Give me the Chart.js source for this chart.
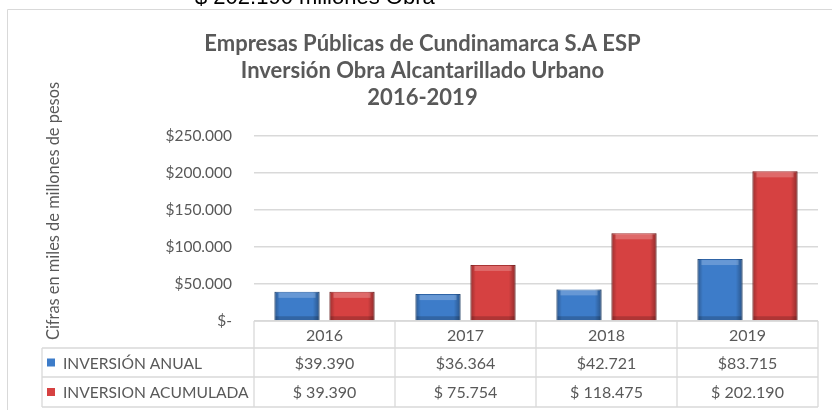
<!DOCTYPE html>
<html lang="es">
<head>
<meta charset="utf-8">
<title>Inversión Obra Alcantarillado Urbano</title>
<script src="https://cdn.jsdelivr.net/npm/chart.js@4/dist/chart.umd.min.js"></script>
<style>
    html, body { margin: 0; padding: 0; background: #fff; overflow: hidden; }
    #contenedor { position: relative; width: 832px; height: 410px; }
    #grafico { position: absolute; left: 0; top: 0; }
    #nota {
        position: absolute; left: 195px; top: -16px;
        font-family: "Liberation Sans", Arial, sans-serif; font-size: 22px;
        color: #000; white-space: nowrap;
    }
</style>
</head>
<body>
<div id="contenedor">
    <canvas id="grafico" width="832" height="410"></canvas>
    <div id="nota">$ 202.190 millones Obra</div>
</div>
<script>
// Datos del gráfico
const anios = ['2016', '2017', '2018', '2019'];
const inversionAnual = [39390, 36364, 42721, 83715];
const inversionAcumulada = [39390, 75754, 118475, 202190];
const nombresSeries = ['INVERSIÓN ANUAL', 'INVERSION ACUMULADA'];
const ticksEje = [0, 50000, 100000, 150000, 200000, 250000];
const tituloLineas = [
    'Empresas Públicas de Cundinamarca S.A ESP',
    'Inversión Obra Alcantarillado Urbano',
    '2016-2019'
];
const tituloEje = 'Cifras en miles de millones de pesos';

const GRIS_TEXTO = '#595959';
const GRIS_LINEA = '#D9D9D9';
const FUENTE = 'Lato, "Open Sans", sans-serif';

// Formato con punto de miles
function miles(n) {
    return String(n).replace(/\B(?=(\d{3})+(?!\d))/g, '.');
}

document.addEventListener('DOMContentLoaded', () => {
    const canvas = document.getElementById('grafico');

    // Borde exterior del gráfico (solo se ven izquierda y arriba)
    const bordeExterior = {
        id: 'bordeExterior',
        beforeDraw(chart) {
            const ctx = chart.ctx;
            ctx.save();
            ctx.strokeStyle = GRIS_LINEA;
            ctx.lineWidth = 1;
            ctx.beginPath();
            ctx.moveTo(7.5, chart.height + 2);
            ctx.lineTo(7.5, 9.5);
            ctx.lineTo(chart.width + 2, 9.5);
            ctx.stroke();
            ctx.restore();
        }
    };

    // Efecto de bisel sobre las barras
    const biselBarras = {
        id: 'biselBarras',
        afterDatasetsDraw(chart) {
            const ctx = chart.ctx;
            ctx.save();
            chart.data.datasets.forEach((ds, i) => {
                chart.getDatasetMeta(i).data.forEach(bar => {
                    const izq = bar.x - bar.width / 2;
                    const der = bar.x + bar.width / 2;
                    const alto = bar.base - bar.y;
                    let g = ctx.createLinearGradient(izq, 0, der, 0);
                    g.addColorStop(0, 'rgba(0,0,0,0.28)');
                    g.addColorStop(0.12, 'rgba(0,0,0,0)');
                    g.addColorStop(0.85, 'rgba(0,0,0,0)');
                    g.addColorStop(1, 'rgba(0,0,0,0.32)');
                    ctx.fillStyle = g;
                    ctx.fillRect(izq, bar.y, bar.width, alto);
                    // brillo superior
                    ctx.fillStyle = 'rgba(255,255,255,0.22)';
                    ctx.fillRect(izq + 4, bar.y + 1, bar.width - 8, Math.min(5, alto));
                    // sombra inferior
                    ctx.fillStyle = 'rgba(0,0,0,0.18)';
                    ctx.fillRect(izq + 1, bar.base - 4, bar.width - 2, 4);
                });
            });
            ctx.restore();
        }
    };

    // Tabla de datos bajo el gráfico y título del eje Y
    const tablaDatos = {
        id: 'tablaDatos',
        afterDraw(chart) {
            const ctx = chart.ctx;
            const x = chart.scales.x;
            const area = chart.chartArea;
            const filaAnios = [area.bottom, 348];
            const filas = [[348, 377], [377, 407]];
            const izqTabla = 42;
            const ancho = (area.right - area.left) / anios.length;

            ctx.save();
            ctx.strokeStyle = GRIS_LINEA;
            ctx.lineWidth = 1.3;
            ctx.beginPath();
            // líneas horizontales
            ctx.moveTo(area.left, filaAnios[0]);
            ctx.lineTo(area.right, filaAnios[0]);
            [348, 377, 407].forEach(y => {
                ctx.moveTo(izqTabla, y);
                ctx.lineTo(area.right, y);
            });
            // líneas verticales
            for (let i = 0; i <= anios.length; i++) {
                const xv = area.left + i * ancho;
                ctx.moveTo(xv, filaAnios[0]);
                ctx.lineTo(xv, 407);
            }
            ctx.moveTo(izqTabla, 348);
            ctx.lineTo(izqTabla, 407);
            ctx.stroke();

            ctx.fillStyle = GRIS_TEXTO;
            ctx.font = '16px ' + FUENTE;
            ctx.textAlign = 'center';
            ctx.textBaseline = 'middle';
            anios.forEach((a, i) => {
                ctx.fillText(a, x.getPixelForValue(i), (filaAnios[0] + filaAnios[1]) / 2 + 1);
            });

            const valores = [
                inversionAnual.map(v => '$' + miles(v)),
                inversionAcumulada.map(v => '$ ' + miles(v))
            ];
            filas.forEach((f, r) => {
                const yc = (f[0] + f[1]) / 2 + 1;
                ctx.font = '16px ' + FUENTE;
                valores[r].forEach((t, i) => {
                    ctx.textAlign = 'center';
                    ctx.fillText(t, x.getPixelForValue(i), yc);
                });
                // clave de color
                const ds = chart.data.datasets[r];
                ctx.fillStyle = ds.backgroundColor;
                ctx.fillRect(47, yc - 5, 8, 8);
                ctx.fillStyle = GRIS_TEXTO;
                ctx.textAlign = 'left';
                ctx.font = '15.6px ' + FUENTE;
                ctx.fillText(nombresSeries[r], 63, yc);
            });

            // título del eje Y
            ctx.save();
            ctx.translate(54, 211);
            ctx.rotate(-Math.PI / 2);
            ctx.textAlign = 'center';
            ctx.font = '16.4px ' + FUENTE;
            ctx.fillText(tituloEje, 0, 0);
            ctx.restore();
            ctx.restore();
        }
    };

    new Chart(canvas, {
        type: 'bar',
        data: {
            labels: anios,
            datasets: [{
                label: nombresSeries[0],
                data: inversionAnual,
                backgroundColor: '#3D7CC9',
                borderColor: '#2F64A6',
                borderWidth: 1
            }, {
                label: nombresSeries[1],
                data: inversionAcumulada,
                backgroundColor: '#D64141',
                borderColor: '#A83232',
                borderWidth: 1
            }]
        },
        options: {
            responsive: false,
            animation: false,
            categoryPercentage: 0.78,
            barPercentage: 0.82,
            layout: {
                padding: { left: 27, right: 14, top: 17, bottom: 89 }
            },
            plugins: {
                legend: { display: false },
                tooltip: { enabled: false },
                title: {
                    display: true,
                    text: tituloLineas,
                    color: GRIS_TEXTO,
                    font: { family: FUENTE, size: 22, weight: 'bold', lineHeight: 1.227 },
                    padding: { top: 13, bottom: 25 }
                }
            },
            scales: {
                x: { display: false },
                y: {
                    min: 0,
                    max: 250000,
                    afterFit(scale) { scale.width = 227; },
                    afterBuildTicks(scale) {
                        scale.ticks = ticksEje.map(v => ({ value: v }));
                    },
                    border: { display: false },
                    grid: { color: GRIS_LINEA, lineWidth: 1.5, drawTicks: false },
                    ticks: {
                        padding: 22,
                        color: GRIS_TEXTO,
                        font: { family: FUENTE, size: 15.5 },
                        callback: v => v === 0 ? '$-' : '$' + miles(v)
                    }
                }
            }
        },
        plugins: [bordeExterior, biselBarras, tablaDatos]
    });
});
</script>
</body>
</html>
